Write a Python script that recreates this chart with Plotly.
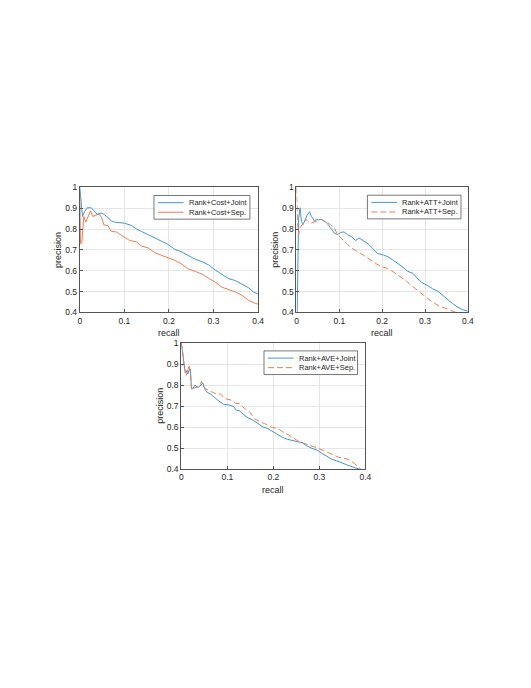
import plotly.graph_objects as go

# ---------------- data ----------------
# Plot 1: Rank+Cost
cost_joint_recall = [0, 0.006, 0.0105, 0.0165, 0.0256, 0.033, 0.039, 0.048, 0.054, 0.063, 0.0707, 0.078,
                     0.1, 0.116, 0.127, 0.138, 0.153, 0.168, 0.183, 0.198, 0.2135, 0.229, 0.244, 0.259,
                     0.274, 0.289, 0.304, 0.319, 0.334, 0.349, 0.364, 0.379, 0.39, 0.4]
cost_joint_prec = [1.0, 0.86, 0.883, 0.902, 0.902, 0.887, 0.871, 0.876, 0.871, 0.855, 0.839, 0.833,
                   0.828, 0.817, 0.80, 0.789, 0.773, 0.754, 0.742, 0.726, 0.702, 0.69, 0.671, 0.655,
                   0.644, 0.628, 0.603, 0.581, 0.562, 0.553, 0.537, 0.518, 0.498, 0.488]
cost_sep_recall = [0, 0.0015, 0.0045, 0.0068, 0.009, 0.0135, 0.018, 0.024, 0.029, 0.0346, 0.0406, 0.045,
                   0.0496, 0.054, 0.063, 0.0707, 0.082, 0.097, 0.112, 0.127, 0.138, 0.153, 0.168, 0.183,
                   0.198, 0.2135, 0.229, 0.244, 0.259, 0.274, 0.289, 0.304, 0.319, 0.334, 0.349, 0.364,
                   0.379, 0.394, 0.4]
cost_sep_prec = [0.97, 0.73, 0.734, 0.836, 0.86, 0.833, 0.86, 0.887, 0.86, 0.865, 0.871, 0.868,
                 0.852, 0.82, 0.817, 0.789, 0.786, 0.765, 0.745, 0.739, 0.718, 0.71, 0.687, 0.674,
                 0.663, 0.65, 0.631, 0.608, 0.597, 0.584, 0.564, 0.545, 0.521, 0.509, 0.498, 0.482,
                 0.458, 0.443, 0.44]

# Plot 2: Rank+ATT
att_joint_recall = [0.0015, 0.004, 0.005, 0.0084, 0.0115, 0.016, 0.0207, 0.025, 0.0307, 0.0345, 0.038,
                    0.042, 0.046, 0.051, 0.0575, 0.065, 0.073, 0.08, 0.088, 0.096, 0.103, 0.111, 0.119,
                    0.13, 0.138, 0.146, 0.157, 0.169, 0.18, 0.19, 0.203, 0.2145, 0.226, 0.2375, 0.249,
                    0.26, 0.272, 0.2835, 0.295, 0.3065, 0.318, 0.33, 0.341, 0.352, 0.364, 0.375, 0.387, 0.4]
att_joint_prec = [0.4, 0.773, 0.852, 0.902, 0.836, 0.824, 0.852, 0.868, 0.883, 0.86, 0.852,
                  0.836, 0.847, 0.844, 0.847, 0.839, 0.824, 0.805, 0.781, 0.773, 0.784, 0.786, 0.773,
                  0.761, 0.745, 0.757, 0.742, 0.726, 0.702, 0.682, 0.676, 0.666, 0.65, 0.635, 0.616,
                  0.597, 0.587, 0.56, 0.54, 0.529, 0.513, 0.502, 0.482, 0.461, 0.443, 0.427, 0.414, 0.406]
att_sep_recall = [0, 0.001, 0.0023, 0.005, 0.008, 0.013, 0.0176, 0.022, 0.027, 0.0345, 0.042, 0.05,
                  0.0575, 0.065, 0.073, 0.08, 0.088, 0.096, 0.107, 0.119, 0.13, 0.142, 0.153, 0.165,
                  0.1755, 0.188, 0.199, 0.21, 0.222, 0.234, 0.245, 0.257, 0.268, 0.28, 0.291, 0.303,
                  0.314, 0.326, 0.337, 0.349, 0.36, 0.372]
att_sep_prec = [1.0, 0.93, 0.836, 0.773, 0.805, 0.82, 0.824, 0.847, 0.836, 0.828, 0.833, 0.839,
                0.847, 0.836, 0.831, 0.82, 0.805, 0.773, 0.75, 0.726, 0.707, 0.694, 0.679, 0.663,
                0.647, 0.631, 0.619, 0.613, 0.6, 0.584, 0.569, 0.55, 0.529, 0.509, 0.49, 0.474,
                0.455, 0.439, 0.427, 0.419, 0.411, 0.4]

# Plot 3: Rank+AVE
ave_joint_recall = [0, 0.003, 0.0057, 0.0085, 0.0114, 0.014, 0.017, 0.02, 0.022, 0.0256, 0.03, 0.035,
                    0.04, 0.044, 0.047, 0.051, 0.056, 0.063, 0.07, 0.078, 0.085, 0.092, 0.1025, 0.113,
                    0.12, 0.127, 0.1345, 0.145, 0.156, 0.1665, 0.177, 0.188, 0.1985, 0.209, 0.22, 0.2306,
                    0.241, 0.252, 0.2626, 0.273, 0.284, 0.2947, 0.305, 0.316, 0.327, 0.337, 0.348, 0.359,
                    0.369, 0.38, 0.387]
ave_joint_prec = [1.0, 0.947, 0.915, 0.86, 0.868, 0.852, 0.871, 0.876, 0.785, 0.785, 0.80, 0.79,
                  0.793, 0.805, 0.81, 0.782, 0.766, 0.758, 0.743, 0.73, 0.719, 0.708, 0.706, 0.699,
                  0.68, 0.677, 0.661, 0.644, 0.633, 0.617, 0.601, 0.593, 0.578, 0.567, 0.551, 0.542,
                  0.535, 0.531, 0.526, 0.51, 0.499, 0.491, 0.476, 0.46, 0.447, 0.44, 0.429, 0.421,
                  0.413, 0.405, 0.4]
ave_sep_recall = [0, 0.003, 0.0057, 0.0085, 0.0114, 0.014, 0.017, 0.02, 0.023, 0.028, 0.035, 0.04,
                  0.044, 0.047, 0.053, 0.06, 0.067, 0.078, 0.085, 0.095, 0.106, 0.117, 0.127, 0.138,
                  0.149, 0.159, 0.17, 0.181, 0.191, 0.202, 0.213, 0.2235, 0.234, 0.245, 0.2555, 0.266,
                  0.277, 0.2875, 0.298, 0.309, 0.3196, 0.33, 0.341, 0.3516, 0.362, 0.373, 0.3836, 0.39]
ave_sep_prec = [1.0, 0.962, 0.9, 0.884, 0.845, 0.868, 0.896, 0.852, 0.774, 0.786, 0.79, 0.793,
                0.818, 0.797, 0.782, 0.774, 0.766, 0.755, 0.758, 0.735, 0.73, 0.714, 0.711, 0.688,
                0.672, 0.64, 0.625, 0.617, 0.604, 0.598, 0.589, 0.573, 0.562, 0.546, 0.531, 0.523,
                0.515, 0.504, 0.499, 0.488, 0.476, 0.468, 0.457, 0.452, 0.447, 0.432, 0.413, 0.4]

x_ticks = [0, 0.1, 0.2, 0.3, 0.4]
x_tick_labels = ["0", "0.1", "0.2", "0.3", "0.4"]
y_ticks = [0.4, 0.5, 0.6, 0.7, 0.8, 0.9, 1.0]
y_tick_labels = ["0.4", "0.5", "0.6", "0.7", "0.8", "0.9", "1"]

# ---------------- figure ----------------
W, H = 531, 688
BLUE = "#4296d6"
ORANGE = "#ec7f55"
FONT = "Liberation Sans, Arial, sans-serif"
TXT = "#262626"
AXC = "#555555"

fig = go.Figure()

# axes boxes in pixel coordinates (left, right, top, bottom)
boxes = [(79, 260, 185, 312), (299, 473, 185, 312), (182, 369, 343, 471)]

series = [
    [("Rank+Cost+Joint", cost_joint_recall, cost_joint_prec, BLUE, "solid"),
     ("Rank+Cost+Sep.", cost_sep_recall, cost_sep_prec, ORANGE, "solid")],
    [("Rank+ATT+Joint", att_joint_recall, att_joint_prec, BLUE, "solid"),
     ("Rank+ATT+Sep.", att_sep_recall, att_sep_prec, ORANGE, "6px,3px")],
    [("Rank+AVE+Joint", ave_joint_recall, ave_joint_prec, BLUE, "solid"),
     ("Rank+AVE+Sep.", ave_sep_recall, ave_sep_prec, ORANGE, "6px,3px")],
]

# legend boxes (left, right, top) in pixels
legend_boxes = [(154.3, 251.7, 193.3), (371, 466, 193), (266, 361, 351)]

annotations = []
shapes = []


def px(x):
    return x / W


def py(y):
    return 1 - y / H


for i, (box, sers) in enumerate(zip(boxes, series)):
    l, r, t, b = box
    n = "" if i == 0 else str(i + 1)
    xa, ya = "x" + n, "y" + n
    for name, xs, ys, col, dash in sers:
        fig.add_trace(go.Scatter(x=xs, y=ys, mode="lines", name=name,
                                 line=dict(color=col, width=1, dash=dash),
                                 xaxis=xa, yaxis=ya, showlegend=False))
    axis_common = dict(showline=True, mirror=True, linecolor=AXC, linewidth=1,
                       showgrid=True, gridcolor="#e6e6e6", gridwidth=1,
                       ticks="inside", ticklen=3, tickcolor=AXC,
                       tickfont=dict(family=FONT, size=8.5, color=TXT), zeroline=False)
    fig.layout["xaxis" + n] = dict(domain=[px(l), px(r)], range=[0, 0.4], anchor=ya,
                                   tickvals=x_ticks, ticktext=x_tick_labels, **axis_common)
    fig.layout["yaxis" + n] = dict(domain=[py(b), py(t)], range=[0.4, 1.0], anchor=xa,
                                   tickvals=y_ticks, ticktext=y_tick_labels, **axis_common)

    annotations.append(dict(text="recall", x=px((l + r) / 2), y=py(b + 21),
                            xref="paper", yref="paper", showarrow=False,
                            xanchor="center", yanchor="middle",
                            font=dict(family=FONT, size=9, color=TXT)))
    annotations.append(dict(text="precision", x=px(l - 22), y=py((t + b) / 2),
                            xref="paper", yref="paper", showarrow=False, textangle=-90,
                            xanchor="center", yanchor="middle",
                            font=dict(family=FONT, size=9, color=TXT)))

    # legend (box, line samples, labels)
    L, R, T = legend_boxes[i]
    shapes.append(dict(type="rect", xref="paper", yref="paper",
                       x0=px(L), x1=px(R), y0=py(T + 24), y1=py(T),
                       line=dict(color=AXC, width=0.8), fillcolor="white", layer="above"))
    for k, (name, xs, ys, col, dash) in enumerate(sers):
        yy = T + 7.3 + 9.7 * k
        shapes.append(dict(type="line", xref="paper", yref="paper",
                           x0=px(L + 4), x1=px(L + 30), y0=py(yy), y1=py(yy),
                           line=dict(color=col, width=1, dash=dash), layer="above"))
        annotations.append(dict(text=name, x=px(L + 33.5), y=py(yy),
                                xref="paper", yref="paper", showarrow=False,
                                xanchor="left", yanchor="middle",
                                font=dict(family=FONT, size=7.5, color=TXT)))

fig.update_layout(width=W, height=H, margin=dict(l=0, r=0, t=0, b=0),
                  paper_bgcolor="white", plot_bgcolor="white",
                  annotations=annotations, shapes=shapes, showlegend=False)

fig.write_html("out.html", config={"displayModeBar": False},
               post_script="document.body.style.margin='0';")
